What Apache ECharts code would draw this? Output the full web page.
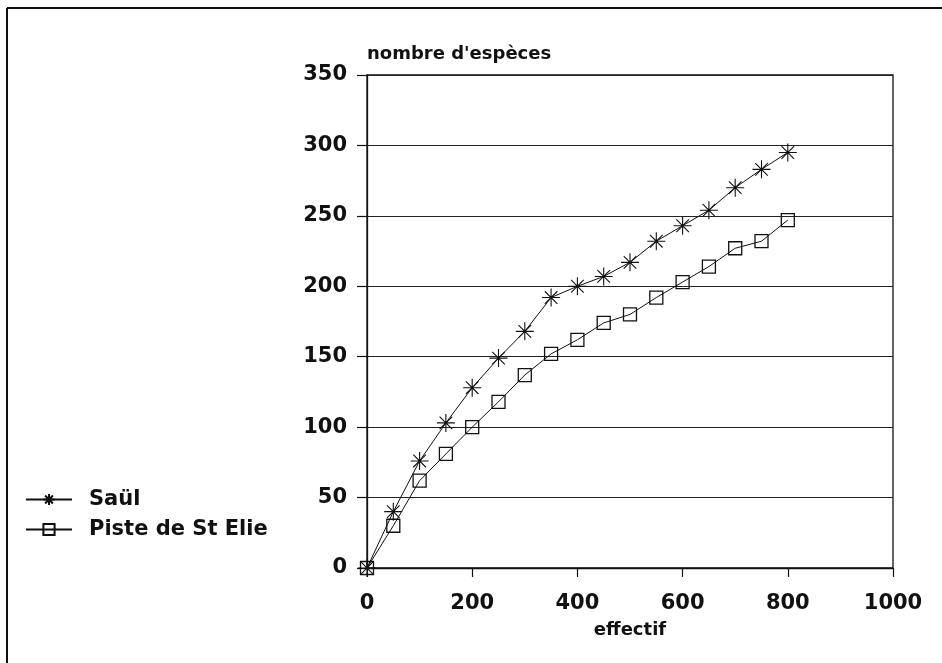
<!DOCTYPE html>
<html>
<head>
<meta charset="utf-8">
<script src="https://cdn.jsdelivr.net/npm/echarts@6/dist/echarts.min.js"></script>
<style>
html,body{margin:0;padding:0;background:#fff;}
#chart{width:942px;height:663px;}
</style>
</head>
<body>
<div id="chart"></div>
<script>
const effectif = [0,50,100,150,200,250,300,350,400,450,500,550,600,650,700,750,800];
const saul = [0,40,76,103,128,149,168,192,200,207,217,232,243,254,270,283,295];
const piste = [0,30,62,81,100,118,137,152,162,174,180,192,203,214,227,232,247];
const seriesNames = ['Saül','Piste de St Elie'];
const yTitle = "nombre d'espèces";
const xTitle = 'effectif';

const FONT = 'DejaVu Sans';
const starPath = 'path://M10,0L10,20M0,10L20,10M3,3L17,17M3,17L17,3';

const chart = echarts.init(document.getElementById('chart'), null, {renderer:'canvas'});
chart.setOption({
  backgroundColor:'#fff',
  animation:false,
  grid:{left:367,right:49,top:75,bottom:95,show:true,borderColor:'#111',borderWidth:1.3,backgroundColor:'transparent'},
  xAxis:{
    type:'value',min:0,max:1000,interval:200,
    name:xTitle,nameLocation:'middle',nameGap:62,
    nameTextStyle:{verticalAlign:'middle',color:'#111',fontFamily:FONT,fontWeight:'bold',fontSize:18},
    axisLine:{show:true,onZero:false,lineStyle:{color:'#111',width:1.3}},
    axisTick:{show:true,length:9,inside:false,lineStyle:{color:'#111',width:1.2}},
    axisLabel:{margin:25,color:'#111',fontFamily:FONT,fontWeight:'bold',fontSize:21,formatter:v=>String(v)},
    splitLine:{show:false}
  },
  yAxis:{
    type:'value',min:0,max:350,interval:50,
    name:yTitle,nameLocation:'end',nameGap:21,
    nameTextStyle:{align:'left',verticalAlign:'middle',color:'#111',fontFamily:FONT,fontWeight:'bold',fontSize:18},
    axisLine:{show:true,lineStyle:{color:'#111',width:1.3}},
    axisTick:{show:true,length:10,lineStyle:{color:'#111',width:1.2}},
    axisLabel:{margin:20,color:'#111',fontFamily:FONT,fontWeight:'bold',fontSize:21},
    splitLine:{show:true,lineStyle:{color:'#222',width:1.2}}
  },
  legend:{
    orient:'vertical',left:20,top:484,itemWidth:46,itemHeight:14,itemGap:9,
    data:seriesNames,
    textStyle:{color:'#111',fontFamily:FONT,fontWeight:'bold',fontSize:21,lineHeight:21,padding:[0,0,0,12]}
  },
  graphic:[
    {type:'line',shape:{x1:7,y1:8,x2:942,y2:8},style:{stroke:'#111',lineWidth:2}},
    {type:'line',shape:{x1:7,y1:8,x2:7,y2:663},style:{stroke:'#111',lineWidth:2}}
  ],
  series:[
    {name:seriesNames[0],type:'line',data:effectif.map((x,i)=>[x,saul[i]]),
     symbol:starPath,symbolSize:18,
     lineStyle:{color:'#111',width:1},
     itemStyle:{color:'none',borderColor:'#111',borderWidth:1.1}},
    {name:seriesNames[1],type:'line',data:effectif.map((x,i)=>[x,piste[i]]),
     symbol:'rect',symbolSize:13,
     lineStyle:{color:'#111',width:1},
     itemStyle:{color:'none',borderColor:'#111',borderWidth:1.3}}
  ]
});
</script>
</body>
</html>
